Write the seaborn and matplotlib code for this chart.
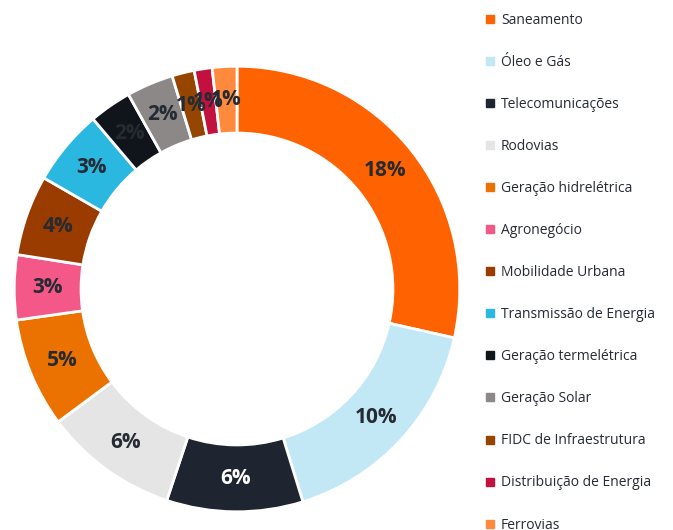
import matplotlib
matplotlib.use("Agg")
import matplotlib.pyplot as plt
from matplotlib.lines import Line2D
import seaborn as sns

# dados (% da carteira)
setores = ["Saneamento", "Óleo e Gás", "Telecomunicações", "Rodovias",
           "Geração hidrelétrica", "Agronegócio", "Mobilidade Urbana",
           "Transmissão de Energia", "Geração termelétrica", "Geração Solar",
           "FIDC de Infraestrutura", "Distribuição de Energia", "Ferrovias"]
valores = [17.6, 10.3, 6.1, 6.0, 4.9, 2.9, 3.6, 3.4, 1.9, 2.1, 1.0, 0.8, 1.1]
rotulos = ["18%", "10%", "6%", "6%", "5%", "3%", "4%", "3%", "2%", "2%", "1%", "1%", "1%"]
cores = ["#FF6200", "#C2E8F5", "#1E2530", "#E5E5E5", "#EB7100", "#F35888",
         "#9A3B00", "#2AB7E0", "#10151C", "#8C8888", "#964500", "#C2103F", "#FF8A3D"]
cor_rotulo = ["#252A33"] * len(setores)
cor_rotulo[2] = "white"

sns.set_theme(style="white")
plt.rcParams["font.family"] = ["Open Sans", "DejaVu Sans"]

fig = plt.figure(figsize=(6.73, 5.3), dpi=100)
ax = fig.add_axes([12 / 673, 16 / 530, 450 / 673, 450 / 530])

wedges, _, autotexts = ax.pie(
    valores, colors=cores, startangle=90, counterclock=False, radius=1,
    autopct="%1.0f%%", pctdistance=0.85,
    wedgeprops=dict(width=0.30, edgecolor="white", linewidth=2),
)
for t, txt, c in zip(autotexts, rotulos, cor_rotulo):
    t.set_text(txt)
    t.set_color(c)
    t.set_fontsize(15)
    t.set_fontweight("bold")
ax.set_xlim(-1.01, 1.01)
ax.set_ylim(-1.01, 1.01)
ax.set_aspect("equal")
ax.axis("off")

handles = [Line2D([], [], marker="s", linestyle="", markersize=5.5,
                  markerfacecolor=c, markeredgecolor=c) for c in cores]
fig.legend(handles, setores, loc="upper left",
           bbox_to_anchor=(480 / 673, 1 - 7 / 530), frameon=False,
           fontsize=10, labelcolor="#252A33", handlelength=0.6,
           handletextpad=0.5, labelspacing=1.95, borderaxespad=0)

fig.savefig("out.png", dpi=100)
